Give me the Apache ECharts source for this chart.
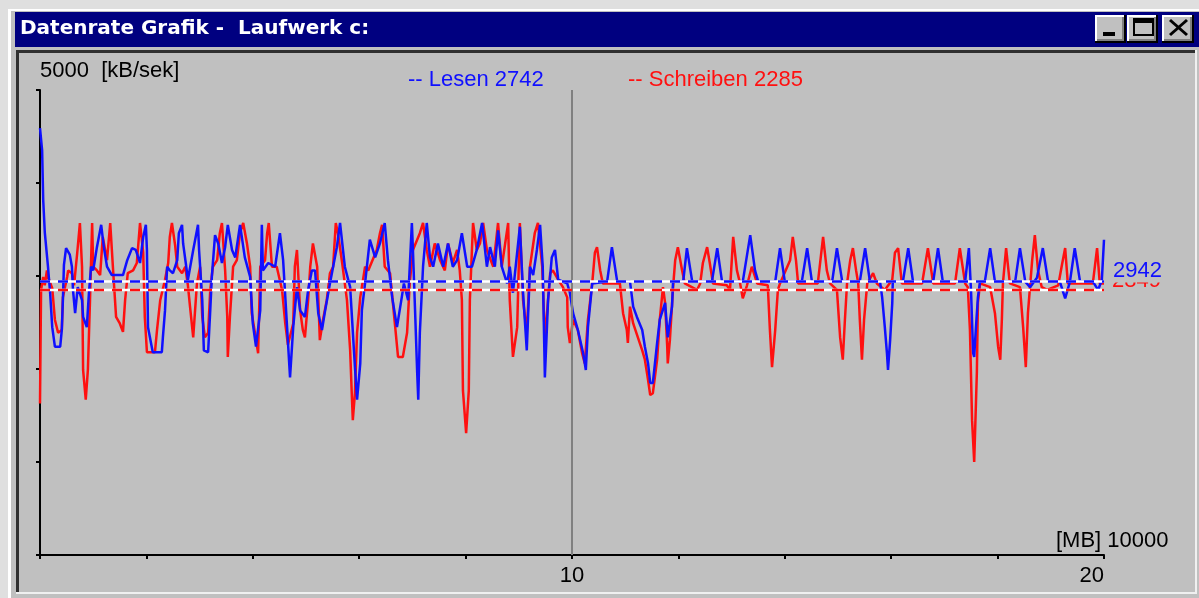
<!DOCTYPE html>
<html><head><meta charset="utf-8">
<script src="https://cdn.jsdelivr.net/npm/echarts@6.0.0/dist/echarts.min.js"></script>
<style>html,body{margin:0;padding:0;background:#c0c0c0;}#chart{width:1199px;height:598px;}</style>
</head><body><div id="chart"></div>
<script>
const windowTitle = 'Datenrate Grafik -  Laufwerk c:';
const seriesNames = ['Lesen', 'Schreiben'];
const legendValues = [2742, 2285];
const averages = [2942, 2849];
const yTopLabel = '5000  [kB/sek]';
const xUnitLabel = '[MB] 10000';
const xLabelValues = [10, 20];
const markerX = [10];

// Lesen (read) – x in axis units, y in kB/sek
const readX = [0,0.04,0.06,0.09,0.15,0.19,0.23,0.28,0.38,0.41,0.43,0.45,0.49,0.56,0.60,0.62,0.66,0.71,0.79,0.81,0.88,0.92,0.96,1.00,1.07,1.15,1.20,1.26,1.35,1.56,1.64,1.73,1.80,1.88,1.94,1.99,2.01,2.03,2.12,2.29,2.31,2.35,2.39,2.44,2.50,2.58,2.61,2.67,2.69,2.74,2.78,2.88,2.97,2.99,3.05,3.08,3.16,3.20,3.23,3.29,3.35,3.42,3.48,3.53,3.61,3.67,3.76,3.85,3.95,4.00,4.06,4.14,4.17,4.19,4.29,4.42,4.51,4.57,4.64,4.70,4.76,4.83,4.89,4.98,5.04,5.11,5.17,5.23,5.30,5.36,5.45,5.51,5.58,5.64,5.73,5.83,5.92,5.96,6.02,6.05,6.11,6.20,6.30,6.39,6.48,6.54,6.62,6.71,6.80,6.84,6.92,6.99,7.01,7.05,7.09,7.11,7.14,7.20,7.27,7.33,7.39,7.48,7.58,7.67,7.76,7.84,7.93,8.03,8.12,8.21,8.31,8.40,8.46,8.55,8.61,8.68,8.78,8.83,8.89,9.02,9.08,9.15,9.21,9.27,9.34,9.40,9.45,9.49,9.55,9.62,9.68,9.74,9.91,9.96,10.02,10.11,10.21,10.26,10.30,10.38,10.66,10.75,10.85,11.09,11.15,11.22,11.32,11.37,11.43,11.47,11.52,11.60,11.65,11.75,11.80,11.88,11.90,12.09,12.16,12.26,12.63,12.73,12.82,13.21,13.35,13.44,13.50,13.82,13.91,14.00,14.32,14.42,14.51,14.89,14.98,15.08,15.41,15.51,15.60,15.79,15.83,15.88,15.92,15.94,15.98,16.02,16.03,16.22,16.32,16.41,16.79,16.88,16.97,17.39,17.46,17.50,17.54,17.56,17.59,17.63,17.67,17.76,17.86,17.95,18.33,18.42,18.52,18.61,18.74,18.85,18.95,19.17,19.27,19.36,19.45,19.55,19.79,19.89,19.96,20.00];
const readY = [4590,4350,3820,3470,3100,2820,2450,2240,2240,2420,2740,3120,3300,3230,3100,2850,2600,2880,2740,2560,2450,2820,3100,3060,3310,3550,3310,3100,3010,3010,3170,3300,3280,3140,3420,3550,3280,2450,2180,2180,2340,2630,3100,3060,3030,3170,3460,3550,3350,3140,2960,3280,3550,3280,2740,2200,2180,2630,2990,3440,3350,3140,3310,3550,3280,3200,3550,3200,2990,2490,2240,2630,3550,3060,3140,3100,3460,3170,2490,1910,2450,2880,2630,2560,2850,3060,3060,2600,2420,2630,2920,3100,3310,3570,3100,2880,2020,1670,2060,2630,2920,3390,3200,3350,3570,3170,2770,2450,2770,2920,2740,3570,3280,2630,1960,1670,2390,3100,3570,3200,3100,3350,3100,3350,3100,3170,3460,3100,3100,3280,3570,3100,3310,3100,3490,3100,2920,3100,2820,3530,2820,2200,3100,3010,3280,3550,3100,1910,2740,3200,3280,2960,2920,2820,2600,2420,2170,1990,2450,2920,2940,3310,2940,2940,2670,2560,2420,2240,2060,1850,1850,2280,2530,2710,2340,2670,2940,2940,3300,2940,2940,3300,2940,2940,3440,3060,2940,2940,3300,2940,2940,3300,2940,2940,3300,2940,2940,3300,2940,2940,2770,2450,2170,1990,2310,2710,2940,2940,3300,2940,2940,3300,2940,2940,3300,2850,2170,2130,2420,2770,2940,2940,3300,2940,2940,3300,2940,2880,2980,3300,2940,2940,2760,2940,3300,2940,2940,2850,2960,3390];

// Schreiben (write)
const writeX = [0,0.02,0.06,0.09,0.13,0.15,0.23,0.28,0.34,0.41,0.43,0.51,0.53,0.60,0.64,0.70,0.75,0.79,0.81,0.86,0.90,0.94,0.98,1.00,1.07,1.13,1.18,1.26,1.32,1.37,1.43,1.50,1.56,1.60,1.65,1.75,1.82,1.88,1.94,1.97,2.01,2.16,2.20,2.26,2.35,2.41,2.44,2.48,2.54,2.58,2.67,2.73,2.78,2.82,2.88,2.95,3.01,3.05,3.10,3.16,3.20,3.25,3.33,3.38,3.42,3.48,3.52,3.53,3.57,3.63,3.70,3.76,3.82,3.89,3.95,3.98,4.04,4.10,4.14,4.23,4.27,4.30,4.36,4.45,4.55,4.61,4.66,4.76,4.79,4.83,4.89,4.94,4.98,5.04,5.08,5.13,5.21,5.26,5.32,5.39,5.45,5.51,5.56,5.60,5.68,5.77,5.83,5.86,5.88,5.92,5.96,6.02,6.11,6.17,6.33,6.39,6.43,6.48,6.58,6.67,6.73,6.82,6.90,6.95,7.01,7.14,7.20,7.27,7.33,7.42,7.52,7.61,7.67,7.76,7.84,7.89,7.93,7.95,8.01,8.06,8.08,8.14,8.21,8.27,8.33,8.40,8.52,8.61,8.68,8.80,8.83,8.89,8.97,9.02,9.08,9.15,9.21,9.30,9.36,9.44,9.49,9.59,9.64,9.74,9.83,9.91,9.92,9.96,10.02,10.11,10.19,10.24,10.30,10.38,10.43,10.47,10.53,10.58,10.90,10.96,11.03,11.05,11.09,11.15,11.32,11.37,11.43,11.47,11.52,11.60,11.65,11.71,11.75,11.79,11.80,11.84,11.90,11.94,11.99,12.07,12.12,12.35,12.41,12.46,12.54,12.59,12.65,12.91,12.97,13.03,13.10,13.16,13.21,13.29,13.38,13.48,13.68,13.72,13.76,13.82,13.87,13.91,14.10,14.15,14.21,14.25,14.62,14.72,14.79,14.85,14.98,15.04,15.09,15.13,15.17,15.23,15.28,15.34,15.38,15.41,15.45,15.49,15.55,15.66,15.73,15.88,16.02,16.07,16.13,16.20,16.58,16.69,16.79,17.20,17.29,17.39,17.44,17.48,17.52,17.56,17.61,17.63,17.67,17.86,17.95,18.01,18.05,18.08,18.10,18.16,18.23,18.42,18.48,18.53,18.57,18.65,18.70,18.76,18.83,18.93,19.14,19.21,19.27,19.32,19.79,19.87,19.92,20.00];
const writeY = [1630,2850,2990,2900,3060,2990,2870,2530,2390,2420,2770,2990,3060,3030,2900,3250,3570,3100,1990,1670,1990,2740,3570,3100,3060,3010,3420,3170,3570,3100,2560,2490,2400,2740,3030,3060,3140,3570,3250,2560,2180,2180,2420,2740,2960,3140,3420,3570,3330,3100,3030,3100,2900,2670,2340,2920,3100,2560,2340,2390,2850,3100,3170,3460,3570,3060,2560,2130,2560,3100,3170,3460,3570,3350,3100,2600,2390,2170,3100,3170,3460,3570,3100,3100,2850,2490,2260,2490,3100,3280,2630,2420,2340,2740,3100,3350,3100,2310,2530,2740,3030,3100,3570,3460,3140,2740,2200,1740,1450,1740,2390,2770,3100,3060,3280,3460,3550,3100,3030,2490,2130,2130,2390,2920,3280,3460,3570,3280,3100,3350,3170,3060,3350,3140,3280,3060,2740,1770,1310,1770,2740,3570,3280,3350,3570,3280,3100,3570,3100,3570,2740,2130,2450,3570,2740,2390,3100,3460,3570,3100,2310,3030,3060,2960,2880,2770,2450,2280,2530,2420,2170,2060,2530,2920,3250,3310,3060,2920,2920,2600,2420,2280,2670,2490,2200,2100,1880,1720,1740,2100,2530,2880,2710,2240,2060,2310,2880,3170,3310,3060,2920,2850,2920,3140,3310,3140,2920,2900,2850,3420,3060,2920,2760,2900,3100,2920,2900,2420,2020,2420,2850,2920,3170,3420,3170,2920,2920,3420,3060,2920,2850,2340,2100,2530,2920,3170,3300,3060,2920,2530,2100,2530,2920,3030,2920,2850,2960,3250,3300,2920,2920,3300,2920,2920,3300,2920,2880,2420,1450,1000,1960,2710,2920,2880,2600,2240,2100,2530,2920,3300,2920,2880,2450,2020,2600,3170,3440,3060,2880,2850,2900,3120,3300,2920,2920,3300,2920,2920];

const FONT = '"Liberation Sans", Arial, sans-serif';
const BLUE = '#1010ff', RED = '#ff1010';

function rect(x, y, w, h, fill, z) {
  return { type: 'rect', shape: { x: x, y: y, width: w, height: h }, style: { fill: fill }, z: z || 0, silent: true };
}
function button(x, y, w, h) {
  return [rect(x, y, w, h, '#000000'), rect(x, y, w - 2, h - 2, '#ffffff'),
          rect(x + 2, y + 2, w - 4, h - 4, '#808080'), rect(x + 2, y + 2, w - 6, h - 6, '#c0c0c0')];
}
function text(x, y, str, fill, font, align) {
  return { type: 'text', x: x, y: y, silent: true, z: 10,
    style: { text: str, fill: fill, font: font, align: align || 'left', verticalAlign: 'middle',
             textAlign: align || 'left', textVerticalAlign: 'middle' } };
}

const chrome = [].concat(
  [rect(0, 0, 1199, 10, '#dfdfdf'), rect(0, 0, 8, 598, '#dfdfdf'),
   rect(8, 9, 1191, 2, '#ffffff'), rect(8, 9, 3, 589, '#ffffff'),
   rect(15, 12, 1184, 35, '#000080'),
   rect(16, 50, 1179, 3, '#303030'), rect(16, 50, 3, 542, '#303030'),
   rect(16, 592, 1181, 2, '#f0f0f0'), rect(1195, 50, 2, 544, '#f0f0f0')],
  button(1095, 15, 31, 28), button(1127, 15, 31, 28), button(1162, 15, 32, 28),
  [rect(1103, 32, 12, 4, '#000000', 1),
   rect(1133, 18, 21, 5, '#000000', 1), rect(1133, 18, 2, 18, '#000000', 1),
   rect(1152, 18, 2, 18, '#000000', 1), rect(1133, 34, 21, 2, '#000000', 1),
   { type: 'line', shape: { x1: 1170, y1: 20, x2: 1187, y2: 35 }, style: { stroke: '#000', lineWidth: 3 }, z: 1, silent: true },
   { type: 'line', shape: { x1: 1187, y1: 20, x2: 1170, y2: 35 }, style: { stroke: '#000', lineWidth: 3 }, z: 1, silent: true },
   text(20, 29, windowTitle, '#ffffff', 'bold 20px "DejaVu Sans", sans-serif'),
   text(408, 80, '-- ' + seriesNames[0] + ' ' + legendValues[0], BLUE, '22px ' + FONT),
   text(628, 80, '-- ' + seriesNames[1] + ' ' + legendValues[1], RED, '22px ' + FONT),
   text(1056, 541, xUnitLabel, '#000000', '22px ' + FONT)]
);

const pairs = (xs, ys) => xs.map((x, i) => [x, ys[i]]);
const avgLine = v => [[0, v], [20, v]];

const option = {
  backgroundColor: '#c0c0c0',
  animation: false,
  grid: { left: 40, right: 95, top: 90, bottom: 43, containLabel: false },
  xAxis: {
    type: 'value', min: 0, max: 20, interval: 2,
    axisLine: { lineStyle: { color: '#000', width: 2 } },
    axisTick: { length: 4, lineStyle: { color: '#000', width: 2 } },
    axisLabel: { formatter: v => xLabelValues.includes(v) ? String(v) : '', color: '#000',
                 fontSize: 22, fontFamily: FONT, margin: 10, alignMaxLabel: 'right', showMaxLabel: true },
    splitLine: { show: false }
  },
  yAxis: {
    type: 'value', min: 0, max: 5000, interval: 1000,
    name: yTopLabel, nameLocation: 'end', nameGap: 19,
    nameTextStyle: { align: 'left', verticalAlign: 'middle', color: '#000', fontSize: 22, fontFamily: FONT },
    axisLine: { show: true, lineStyle: { color: '#000', width: 2 } },
    axisTick: { show: true, length: 4, lineStyle: { color: '#000', width: 2 } },
    axisLabel: { show: false }, splitLine: { show: false }
  },
  graphic: { elements: chrome },
  series: [
    { name: seriesNames[1], type: 'line', data: pairs(writeX, writeY), symbol: 'none', z: 2,
      lineStyle: { color: RED, width: 2.5 }, itemStyle: { color: RED },
      markLine: { silent: true, symbol: 'none', label: { show: false },
                  lineStyle: { color: '#808080', width: 2, type: 'solid' },
                  data: markerX.map(v => ({ xAxis: v })) } },
    { name: seriesNames[0], type: 'line', data: pairs(readX, readY), symbol: 'none', z: 3,
      lineStyle: { color: BLUE, width: 2.5 }, itemStyle: { color: BLUE } },
    { type: 'line', data: avgLine(averages[1]), symbol: 'none', z: 4, silent: true,
      lineStyle: { color: '#ffffff', width: 2.5 } },
    { type: 'line', data: avgLine(averages[1]), symbol: 'none', z: 5, silent: true,
      lineStyle: { color: RED, width: 2.5, type: [10, 8] },
      endLabel: { show: true, formatter: () => String(averages[1]), color: RED, fontSize: 22,
                  fontFamily: FONT, distance: 8, offset: [0, -9] } },
    { type: 'line', data: avgLine(averages[0]), symbol: 'none', z: 6, silent: true,
      lineStyle: { color: '#ffffff', width: 2.5 } },
    { type: 'line', data: avgLine(averages[0]), symbol: 'none', z: 7, silent: true,
      lineStyle: { color: BLUE, width: 2.5, type: [10, 8] },
      endLabel: { show: true, formatter: () => String(averages[0]), color: BLUE, fontSize: 22,
                  fontFamily: FONT, distance: 8, offset: [0, -10], backgroundColor: '#c0c0c0', padding: [0, 1, 0, 1] } }
  ]
};
const chart = echarts.init(document.getElementById('chart'));
chart.setOption(option);
</script></body></html>
